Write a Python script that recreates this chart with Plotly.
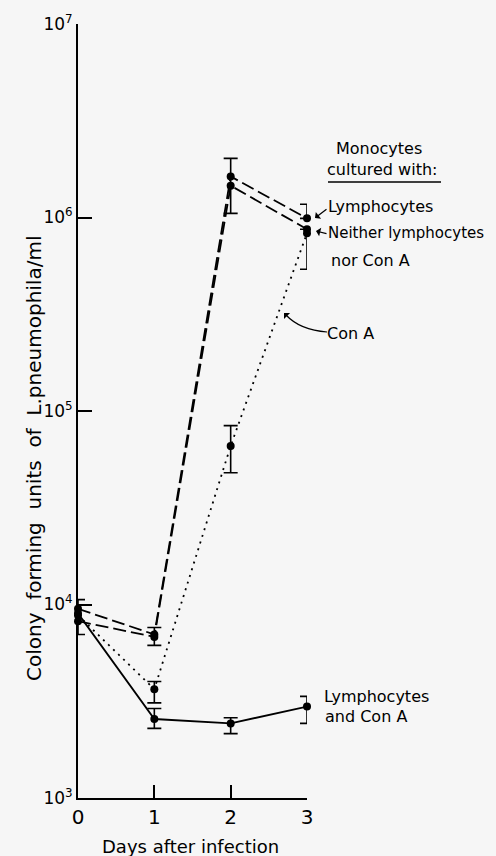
import plotly.graph_objects as go

# ---------------- data ----------------
days = [0, 1, 2, 3]

lymph = [9500, 7000, 1.63e6, 0.99e6]          # Lymphocytes
neither = [8200, 6800, 1.46e6, 8.7e5]         # Neither lymphocytes nor Con A
cona = [8800, 3650, 6.6e4, 8.3e5]             # Con A
lymph_cona = [9000, 2560, 2430, 2970]         # Lymphocytes and Con A

# error bars (low, high), None = no bar
lymph_lo = [None, 6150, 1.05e6, 0.99e6]
lymph_hi = [None, 7600, 2.02e6, 1.17e6]
neither_lo = [7000, None, None, 5.4e5]
neither_hi = [10600, None, None, 8.7e5]
cona_lo = [None, 3100, 4.8e4, None]
cona_hi = [None, 4000, 8.4e4, None]
lc_lo = [None, 2290, 2150, 2430]
lc_hi = [None, 2900, 2600, 3350]

ytick_vals = [1e3, 1e4, 1e5, 1e6, 1e7]
ytick_text = ["10<sup>3</sup>", "10<sup>4</sup>", "10<sup>5</sup>", "10<sup>6</sup>", "10<sup>7</sup>"]
xtick_vals = [0, 1, 2, 3]
xtick_text = ["0", "1", "2", "3"]

# ---------------- layout geometry ----------------
W, H = 496, 856
L, R = 78, 307     # plot area left/right px
T, B = 24, 798     # plot area top/bottom px
FONT = "DejaVu Sans"
BG = "#f6f6f6"


def px(x, y):
    return (x - L) / (R - L), (B - y) / (B - T)


fig = go.Figure()

line_w = 1.8
series = [
    (lymph, dict(color="black", width=line_w, dash="13px,5px")),
    (neither, dict(color="black", width=line_w, dash="13px,5px")),
    (cona, dict(color="black", width=1.8, dash="2px,5px")),
    (lymph_cona, dict(color="black", width=line_w)),
]
for vals, ln in series:
    fig.add_trace(go.Scatter(x=days, y=vals, mode="lines+markers", line=ln,
                             marker=dict(color="black", size=8),
                             cliponaxis=False, showlegend=False))

# error bars drawn from low to high
for lo, hi in [(lymph_lo, lymph_hi), (neither_lo, neither_hi), (cona_lo, cona_hi), (lc_lo, lc_hi)]:
    xs, ys, plus = [], [], []
    for d, a, b in zip(days, lo, hi):
        if a is None:
            continue
        xs.append(d)
        ys.append(a)
        plus.append(b - a)
    fig.add_trace(go.Scatter(x=xs, y=ys, mode="markers",
                             marker=dict(size=1, color="rgba(0,0,0,0)"),
                             error_y=dict(type="data", array=plus, arrayminus=[0] * len(plus),
                                          symmetric=False, color="black", thickness=1.6, width=7),
                             cliponaxis=False, showlegend=False, hoverinfo="skip"))

ann = []


def text(x, y, s, size=16, xanchor="left"):
    xp, yp = px(x, y)
    ann.append(dict(x=xp, y=yp, xref="paper", yref="paper", text=s, showarrow=False,
                    xanchor=xanchor, yanchor="middle", font=dict(size=size, color="black", family=FONT)))


def arrow(x0, y0, x1, y1):
    xp, yp = px(x1, y1)
    ann.append(dict(x=xp, y=yp, xref="paper", yref="paper", text="", showarrow=True,
                    ax=x0 - x1, ay=y0 - y1, arrowhead=1, arrowsize=1.2, arrowwidth=1.2,
                    arrowcolor="black"))


text(334, 148, "Monocytes")
text(325, 170, "cultured with:")
text(326, 206, "Lymphocytes")
text(326, 233, "Neither lymphocytes", size=15)
text(329, 260, "nor Con A")
text(325, 333, "Con A")
text(322, 696, "Lymphocytes")
text(323, 716, "and Con A")

arrow(328, 208, 315, 218)
arrow(328, 234, 316, 231)

# curved Con A leader
x0, y0 = px(327, 332)
xc, yc = px(300, 330)
x1, y1 = px(286, 315)
fig.add_shape(type="path", xref="paper", yref="paper",
              path=f"M {x0} {y0} Q {xc} {yc} {x1} {y1}",
              line=dict(color="black", width=1.2))
arrow(288, 317, 284, 313)

# underline
ux0, uy = px(328, 182)
ux1, _ = px(441, 182)
fig.add_shape(type="line", xref="paper", yref="paper", x0=ux0, x1=ux1, y0=uy, y1=uy,
              line=dict(color="black", width=1.6))

# axis titles
sp = " \u00a0"
ytitle = sp.join(["Colony", "forming", "units", "of", "L.pneumophila/ml"])
xt, yt = px(34, 459)
ann.append(dict(x=xt, y=yt, xref="paper", yref="paper", text=ytitle,
                showarrow=False, textangle=-90, xanchor="center", yanchor="middle",
                font=dict(size=20, color="black", family=FONT)))
xt, yt = px(190, 846)
ann.append(dict(x=xt, y=yt, xref="paper", yref="paper", text="Days after infection",
                showarrow=False, xanchor="center", yanchor="middle",
                font=dict(size=18, color="black", family=FONT)))

fig.update_layout(
    width=W, height=H,
    margin=dict(l=L, r=W - R, t=T, b=H - B, pad=0),
    paper_bgcolor=BG, plot_bgcolor=BG,
    annotations=ann,
    xaxis=dict(range=[0, 3], tickvals=xtick_vals, ticktext=xtick_text, ticks="inside",
               ticklen=13, tickwidth=1.6, tickcolor="black", showline=True, linecolor="black",
               linewidth=1.8, showgrid=False, zeroline=False,
               tickfont=dict(size=20, color="black", family=FONT)),
    yaxis=dict(type="log", range=[3, 7], tickvals=ytick_vals, ticktext=ytick_text, ticks="inside",
               ticklen=14, tickwidth=1.6, tickcolor="black", showline=True, linecolor="black",
               linewidth=1.8, showgrid=False, zeroline=False,
               tickfont=dict(size=17, color="black", family=FONT)),
)

fig.write_html("out.html", config={"displayModeBar": False},
               post_script="document.body.style.margin='0px';document.body.style.background='" + BG + "';")
